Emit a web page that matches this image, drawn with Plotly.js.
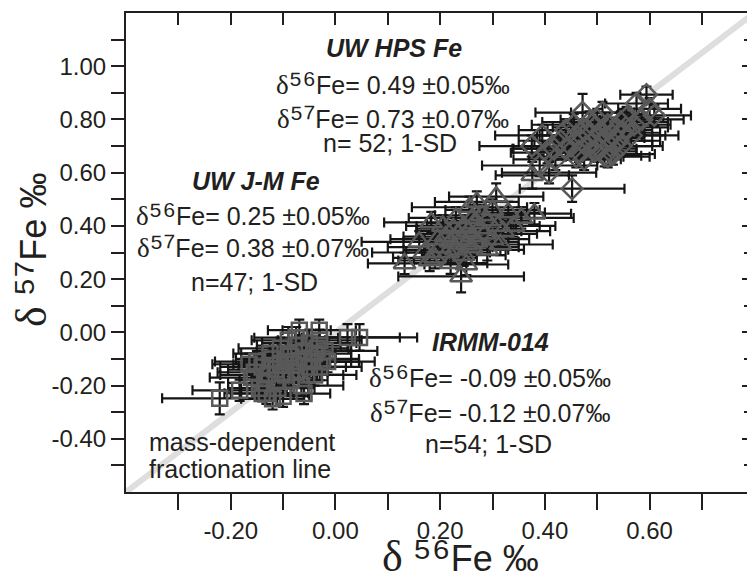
<!DOCTYPE html>
<html><head><meta charset="utf-8">
<script src="https://cdn.plot.ly/plotly-3.0.1.min.js"></script>
<style>html,body{margin:0;padding:0;overflow:hidden;background:#fff}#chart{width:747px;height:575px}</style>
</head><body><div id="chart"></div><script>
// IRMM-014 (squares)
const irmmX = [-0.221,-0.183,-0.132,-0.113,-0.069,-0.031,0.023,0.046,-0.14,-0.12,-0.10,-0.09,-0.08,-0.07,-0.06,-0.05,-0.04,-0.03,-0.11,-0.12,-0.10,-0.13,-0.15,-0.155,-0.125,-0.095,-0.085,-0.075,-0.065,-0.055,-0.045,-0.035,-0.025,-0.02,-0.105,-0.115,-0.135,-0.145,-0.09,-0.075,-0.06,-0.05,-0.04,-0.085,-0.095,-0.105,-0.125,-0.16,-0.07,-0.03,-0.015,-0.06,-0.14,-0.165];
const irmmY = [-0.248,-0.218,-0.229,-0.180,0.008,0.008,-0.019,-0.019,-0.13,-0.10,-0.15,-0.08,-0.12,-0.05,-0.10,-0.04,-0.08,-0.13,-0.21,-0.25,-0.24,-0.16,-0.11,-0.15,-0.125,-0.11,-0.18,-0.15,-0.20,-0.16,-0.11,-0.06,-0.10,-0.07,-0.06,-0.14,-0.19,-0.21,-0.03,-0.02,-0.07,-0.13,-0.16,-0.09,-0.16,-0.12,-0.08,-0.17,-0.11,-0.03,-0.11,-0.23,-0.23,-0.12];
const irmmEx = [0.11,0.09,0.08,0.07,0.06,0.07,0.10,0.11,0.08,0.07,0.06,0.09,0.07,0.08,0.06,0.09,0.07,0.08,0.07,0.06,0.05,0.09,0.08,0.07,0.06,0.08,0.07,0.06,0.08,0.07,0.09,0.06,0.07,0.10,0.08,0.09,0.07,0.06,0.07,0.08,0.09,0.07,0.08,0.07,0.06,0.09,0.07,0.08,0.10,0.08,0.09,0.05,0.06,0.07];
const irmmEy = [0.06,0.04,0.04,0.05,0.04,0.04,0.05,0.05,0.04,0.04,0.05,0.04,0.04,0.04,0.04,0.05,0.04,0.05,0.04,0.04,0.04,0.04,0.04,0.04,0.04,0.04,0.05,0.04,0.04,0.04,0.04,0.04,0.04,0.04,0.04,0.04,0.04,0.04,0.05,0.04,0.04,0.04,0.04,0.04,0.04,0.04,0.04,0.04,0.04,0.04,0.04,0.04,0.03,0.04];
// UW J-M Fe (triangles)
const jmX = [0.132,0.180,0.240,0.307,0.355,0.380,0.183,0.256,0.262,0.376,0.20,0.21,0.22,0.225,0.23,0.235,0.24,0.245,0.25,0.255,0.26,0.265,0.27,0.275,0.28,0.285,0.29,0.30,0.31,0.32,0.33,0.215,0.195,0.205,0.17,0.16,0.19,0.26,0.245,0.29,0.315,0.34,0.30,0.27,0.23,0.22,0.25];
const jmY = [0.259,0.270,0.210,0.510,0.430,0.446,0.413,0.470,0.430,0.590,0.32,0.36,0.34,0.39,0.31,0.37,0.35,0.40,0.33,0.38,0.36,0.41,0.34,0.39,0.44,0.37,0.42,0.35,0.40,0.38,0.45,0.30,0.35,0.40,0.30,0.34,0.28,0.32,0.29,0.31,0.33,0.40,0.46,0.49,0.43,0.26,0.255];
const jmEx = [0.07,0.06,0.12,0.09,0.10,0.07,0.09,0.11,0.08,0.07,0.10,0.08,0.09,0.07,0.10,0.08,0.07,0.09,0.08,0.10,0.07,0.09,0.08,0.07,0.09,0.10,0.08,0.07,0.08,0.09,0.07,0.08,0.09,0.07,0.10,0.11,0.08,0.09,0.08,0.07,0.10,0.08,0.09,0.08,0.09,0.07,0.08];
const jmEy = [0.04,0.04,0.06,0.05,0.04,0.04,0.04,0.04,0.05,0.05,0.04,0.04,0.05,0.04,0.04,0.04,0.04,0.04,0.05,0.04,0.04,0.04,0.04,0.04,0.04,0.04,0.05,0.04,0.04,0.04,0.04,0.04,0.04,0.04,0.04,0.04,0.04,0.04,0.04,0.04,0.04,0.04,0.04,0.04,0.04,0.04,0.04];
// UW HPS Fe (diamonds)
const hpsX = [0.594,0.609,0.472,0.510,0.556,0.395,0.418,0.390,0.408,0.452,0.514,0.575,0.585,0.375,0.43,0.45,0.46,0.465,0.47,0.475,0.48,0.485,0.49,0.495,0.50,0.505,0.51,0.515,0.52,0.525,0.53,0.535,0.54,0.545,0.55,0.555,0.46,0.475,0.495,0.44,0.455,0.50,0.53,0.565,0.57,0.42,0.405,0.44,0.485,0.52,0.60,0.545];
const hpsY = [0.893,0.815,0.826,0.826,0.807,0.740,0.690,0.627,0.600,0.540,0.664,0.860,0.800,0.700,0.72,0.70,0.74,0.68,0.72,0.76,0.70,0.74,0.71,0.77,0.73,0.69,0.75,0.72,0.78,0.70,0.74,0.76,0.72,0.79,0.75,0.77,0.66,0.65,0.68,0.76,0.78,0.80,0.67,0.74,0.78,0.65,0.675,0.69,0.79,0.66,0.84,0.70];
const hpsEx = [0.05,0.07,0.09,0.06,0.07,0.09,0.08,0.11,0.09,0.10,0.07,0.06,0.08,0.10,0.08,0.09,0.07,0.08,0.09,0.07,0.08,0.10,0.07,0.08,0.09,0.07,0.08,0.09,0.07,0.08,0.10,0.07,0.08,0.09,0.07,0.08,0.09,0.07,0.08,0.09,0.08,0.07,0.08,0.09,0.07,0.08,0.07,0.10,0.09,0.08,0.06,0.08];
const hpsEy = [0.03,0.04,0.07,0.04,0.04,0.04,0.04,0.04,0.04,0.05,0.04,0.04,0.04,0.04,0.04,0.04,0.04,0.04,0.04,0.04,0.04,0.04,0.04,0.04,0.04,0.04,0.04,0.04,0.04,0.04,0.04,0.04,0.04,0.04,0.04,0.04,0.04,0.04,0.04,0.04,0.04,0.04,0.04,0.04,0.04,0.04,0.04,0.04,0.04,0.04,0.04,0.04];
// mass-dependent fractionation line (δ57 = 1.5 δ56)
const mdfX = [-0.40, 0.80];
const mdfY = [-0.60, 1.20];
// axis ticks
const xRange = [-0.40, 0.786];
const yRange = [-0.60, 1.20];
const xTickVals = [-0.2, 0, 0.2, 0.4, 0.6];
const xTickText = ["-0.20", "0.00", "0.20", "0.40", "0.60"];
const xMinorVals = [-0.3, -0.1, 0.1, 0.3, 0.5, 0.7];
const xTopVals = [-0.3, -0.2, -0.1, 0, 0.1, 0.2, 0.3, 0.4, 0.5, 0.6, 0.7];
const yTickVals = [-0.4, -0.2, 0, 0.2, 0.4, 0.6, 0.8, 1.0];
const yTickText = ["-0.40", "-0.20", "0.00", "0.20", "0.40", "0.60", "0.80", "1.00"];
const yMinorVals = [-0.5, -0.3, -0.1, 0.1, 0.3, 0.5, 0.7, 0.9, 1.1];

const F = "Liberation Sans, Arial, Helvetica, sans-serif";
const INK = "#231f20";
const MK = "#595959";
const D = '<span style="font-family:Liberation Serif, Times New Roman, serif;font-size:27px">δ</span>';
const S56 = '<span style="font-size:33px">⁵⁶</span>';
const S57 = '<span style="font-size:33px">⁵⁷</span>';

function series(x, y, ex, ey, sym, size) {
  return {
    type: 'scatter', mode: 'markers', x: x, y: y,
    error_x: {type: 'data', array: ex, visible: true, color: '#151515', thickness: 2.2, width: 5},
    error_y: {type: 'data', array: ey, visible: true, color: '#151515', thickness: 2.2, width: 5},
    marker: {symbol: sym, size: size, color: MK, line: {color: MK, width: 2.5}},
    hoverinfo: 'skip', showlegend: false
  };
}

const traces = [
  {type: 'scatter', mode: 'lines', x: mdfX, y: mdfY, line: {color: '#dedede', width: 6}, hoverinfo: 'skip', showlegend: false},
  series(irmmX, irmmY, irmmEx, irmmEy, 'square-open', 15),
  series(jmX, jmY, jmEx, jmEy, 'triangle-up-open', 19),
  series(hpsX, hpsY, hpsEx, hpsEy, 'diamond-open', 16),
  {type: 'scatter', mode: 'markers', x: [0], y: [0], xaxis: 'x2', yaxis: 'y2', marker: {opacity: 0}, hoverinfo: 'skip', showlegend: false}
];

function ann(x, y, text, opts) {
  return Object.assign({x: x, y: y, xref: 'x', yref: 'y', text: text, showarrow: false,
    xanchor: 'center', yanchor: 'middle', font: {family: F, size: 25, color: INK}}, opts || {});
}
const BI = {font: {family: F, size: 25, color: INK, weight: 'bold', style: 'italic'}};

const annotations = [
  ann(0.111, 1.069, '<b><i>UW HPS Fe</i></b>', BI),
  ann(0.109, 0.937, D + S56 + 'Fe= 0.49 ±0.05‰'),
  ann(0.109, 0.810, D + S57 + 'Fe= 0.73 ±0.07‰'),
  ann(0.105, 0.712, 'n= 52; 1-SD'),
  ann(-0.151, 0.570, '<b><i>UW J-M Fe</i></b>', BI),
  ann(-0.157, 0.446, D + S56 + 'Fe= 0.25 ±0.05‰'),
  ann(-0.157, 0.326, D + S57 + 'Fe= 0.38 ±0.07‰'),
  ann(-0.154, 0.188, 'n=47; 1-SD'),
  ann(0.296, -0.0375, '<b><i>IRMM-014</i></b>', BI),
  ann(0.296, -0.162, D + S56 + 'Fe= -0.09 ±0.05‰'),
  ann(0.296, -0.293, D + S57 + 'Fe= -0.12 ±0.07‰'),
  ann(0.292, -0.420, 'n=54; 1-SD'),
  ann(-0.359, -0.413, 'mass-dependent', {xanchor: 'left'}),
  ann(-0.359, -0.514, 'fractionation line', {xanchor: 'left'}),
  {xref: 'paper', yref: 'paper', x: 0.538, y: -0.131, showarrow: false, xanchor: 'center', yanchor: 'middle',
   text: '<span style="font-family:Liberation Serif, serif;font-size:44px">δ</span> <span style="font-size:46px">⁵⁶</span>Fe ‰',
   font: {family: F, size: 36, color: INK}},
  {xref: 'paper', yref: 'paper', x: -0.1546, y: 0.505, showarrow: false, xanchor: 'center', yanchor: 'middle', textangle: -90,
   text: '<span style="font-family:Liberation Serif, serif;font-size:44px">δ</span> <span style="font-size:46px">⁵⁷</span>Fe ‰',
   font: {family: F, size: 36, color: INK}}
];

const baseAx = {showgrid: false, zeroline: false, fixedrange: true, tickcolor: INK, tickwidth: 2};
const layout = {
  width: 747, height: 575,
  margin: {l: 126, r: 0, t: 13, b: 83},
  paper_bgcolor: '#ffffff', plot_bgcolor: '#ffffff',
  showlegend: false,
  font: {family: F, color: INK, size: 24},
  xaxis: Object.assign({}, baseAx, {range: xRange, tickmode: 'array', tickvals: xTickVals, ticktext: xTickText,
    ticks: 'outside', ticklen: 16, showline: true, linewidth: 2, linecolor: INK, mirror: true,
    tickfont: {family: F, size: 24, color: INK},
    minor: {tickmode: 'array', tickvals: xMinorVals, ticks: 'outside', ticklen: 16, tickwidth: 2, tickcolor: INK}}),
  yaxis: Object.assign({}, baseAx, {range: yRange, tickmode: 'array', tickvals: yTickVals, ticktext: yTickText,
    ticks: 'outside', ticklen: 13, showline: true, linewidth: 2, linecolor: INK, mirror: false,
    tickfont: {family: F, size: 24, color: INK},
    minor: {tickmode: 'array', tickvals: yMinorVals, ticks: 'outside', ticklen: 13, tickwidth: 2, tickcolor: INK}}),
  xaxis2: Object.assign({}, baseAx, {overlaying: 'x', side: 'top', anchor: 'y2', range: xRange, tickmode: 'array',
    tickvals: xTopVals, ticks: 'inside', ticklen: 12, showticklabels: false, showline: false}),
  yaxis2: Object.assign({}, baseAx, {overlaying: 'y', side: 'right', anchor: 'x2', range: yRange, tickmode: 'array',
    tickvals: yTickVals, ticks: 'inside', ticklen: 5, showticklabels: false, showline: false,
    minor: {tickmode: 'array', tickvals: yMinorVals, ticks: 'inside', ticklen: 3, tickwidth: 2, tickcolor: INK}}),
  annotations: annotations
};

Plotly.newPlot('chart', traces, layout, {displayModeBar: false, staticPlot: true});
</script></body></html>
